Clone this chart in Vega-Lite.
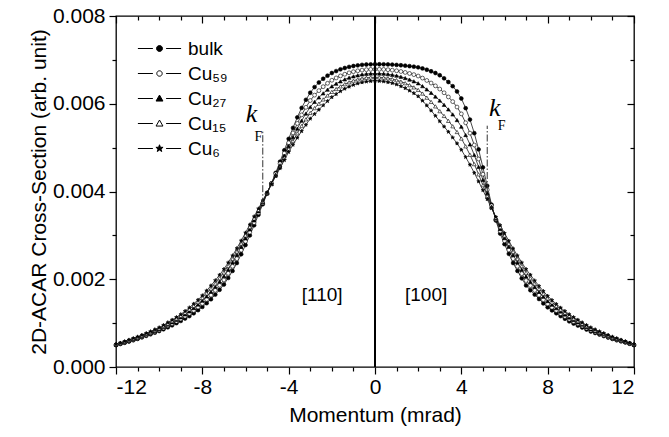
{
"$schema": "https://vega.github.io/schema/vega-lite/v6.json",
"width": 518, "height": 351,
"autosize": {"type": "none"},
"padding": {"left": 116, "top": 16, "right": 35, "bottom": 70},
"background": "white",
"config": {
 "view": {"stroke": "black", "strokeWidth": 1.3},
 "axis": {"domain": false, "grid": false, "tickColor": "black", "tickWidth": 1.2, "labelColor": "black", "titleColor": "black", "labelFont": "Liberation Sans", "titleFont": "Liberation Sans", "labelFontSize": 21, "titleFontSize": 21, "titleFontWeight": "normal"}
},
"data": {"values": [
{"s":"bulk","x":-12,"y":0.0005},{"s":"bulk","x":-11.8,"y":0.000525},{"s":"bulk","x":-11.6,"y":0.000552},{"s":"bulk","x":-11.4,"y":0.00058},{"s":"bulk","x":-11.2,"y":0.00061},{"s":"bulk","x":-11,"y":0.00064},{"s":"bulk","x":-10.8,"y":0.000675},{"s":"bulk","x":-10.6,"y":0.00071},{"s":"bulk","x":-10.4,"y":0.000746},{"s":"bulk","x":-10.2,"y":0.000782},{"s":"bulk","x":-10,"y":0.00082},{"s":"bulk","x":-9.8,"y":0.00086},{"s":"bulk","x":-9.6,"y":0.000905},{"s":"bulk","x":-9.4,"y":0.00095},{"s":"bulk","x":-9.2,"y":0.001},{"s":"bulk","x":-9,"y":0.00105},{"s":"bulk","x":-8.8,"y":0.001105},{"s":"bulk","x":-8.6,"y":0.00116},{"s":"bulk","x":-8.4,"y":0.001225},{"s":"bulk","x":-8.2,"y":0.001295},{"s":"bulk","x":-8,"y":0.00137},{"s":"bulk","x":-7.8,"y":0.001455},{"s":"bulk","x":-7.6,"y":0.001545},{"s":"bulk","x":-7.4,"y":0.00165},{"s":"bulk","x":-7.2,"y":0.00176},{"s":"bulk","x":-7,"y":0.00188},{"s":"bulk","x":-6.8,"y":0.00203},{"s":"bulk","x":-6.6,"y":0.00219},{"s":"bulk","x":-6.4,"y":0.00237},{"s":"bulk","x":-6.2,"y":0.00257},{"s":"bulk","x":-6,"y":0.00278},{"s":"bulk","x":-5.8,"y":0.003},{"s":"bulk","x":-5.6,"y":0.00323},{"s":"bulk","x":-5.4,"y":0.00347},{"s":"bulk","x":-5.2,"y":0.00371},{"s":"bulk","x":-5,"y":0.00395},{"s":"bulk","x":-4.8,"y":0.004185},{"s":"bulk","x":-4.6,"y":0.004425},{"s":"bulk","x":-4.4,"y":0.00468},{"s":"bulk","x":-4.2,"y":0.00494},{"s":"bulk","x":-4,"y":0.0052},{"s":"bulk","x":-3.8,"y":0.00545},{"s":"bulk","x":-3.6,"y":0.00569},{"s":"bulk","x":-3.4,"y":0.005905},{"s":"bulk","x":-3.2,"y":0.00609},{"s":"bulk","x":-3,"y":0.00625},{"s":"bulk","x":-2.8,"y":0.00638},{"s":"bulk","x":-2.6,"y":0.006485},{"s":"bulk","x":-2.4,"y":0.00657},{"s":"bulk","x":-2.2,"y":0.00664},{"s":"bulk","x":-2,"y":0.0067},{"s":"bulk","x":-1.8,"y":0.006745},{"s":"bulk","x":-1.6,"y":0.006785},{"s":"bulk","x":-1.4,"y":0.006815},{"s":"bulk","x":-1.2,"y":0.00684},{"s":"bulk","x":-1,"y":0.00686},{"s":"bulk","x":-0.8,"y":0.006875},{"s":"bulk","x":-0.6,"y":0.006887},{"s":"bulk","x":-0.4,"y":0.006894},{"s":"bulk","x":-0.2,"y":0.006898},{"s":"bulk","x":0,"y":0.0069},
{"s":"bulk","x":0.2,"y":0.0069},{"s":"bulk","x":0.4,"y":0.006899},{"s":"bulk","x":0.6,"y":0.006897},{"s":"bulk","x":0.8,"y":0.006892},{"s":"bulk","x":1,"y":0.006885},{"s":"bulk","x":1.2,"y":0.006878},{"s":"bulk","x":1.4,"y":0.006868},{"s":"bulk","x":1.6,"y":0.006857},{"s":"bulk","x":1.8,"y":0.006845},{"s":"bulk","x":2,"y":0.00683},{"s":"bulk","x":2.2,"y":0.006805},{"s":"bulk","x":2.4,"y":0.006775},{"s":"bulk","x":2.6,"y":0.00674},{"s":"bulk","x":2.8,"y":0.0067},{"s":"bulk","x":3,"y":0.00665},{"s":"bulk","x":3.2,"y":0.00658},{"s":"bulk","x":3.4,"y":0.006495},{"s":"bulk","x":3.6,"y":0.0064},{"s":"bulk","x":3.8,"y":0.00628},{"s":"bulk","x":4,"y":0.00612},{"s":"bulk","x":4.2,"y":0.0059},{"s":"bulk","x":4.4,"y":0.00564},{"s":"bulk","x":4.6,"y":0.00533},{"s":"bulk","x":4.8,"y":0.00496},{"s":"bulk","x":5,"y":0.00455},{"s":"bulk","x":5.2,"y":0.00413},{"s":"bulk","x":5.4,"y":0.0037},{"s":"bulk","x":5.6,"y":0.00334},{"s":"bulk","x":5.8,"y":0.00304},{"s":"bulk","x":6,"y":0.0028},{"s":"bulk","x":6.2,"y":0.00258},{"s":"bulk","x":6.4,"y":0.00237},{"s":"bulk","x":6.6,"y":0.00219},{"s":"bulk","x":6.8,"y":0.00202},{"s":"bulk","x":7,"y":0.00186},{"s":"bulk","x":7.2,"y":0.00175},{"s":"bulk","x":7.4,"y":0.00165},{"s":"bulk","x":7.6,"y":0.00155},{"s":"bulk","x":7.8,"y":0.00145},{"s":"bulk","x":8,"y":0.00136},{"s":"bulk","x":8.2,"y":0.00129},{"s":"bulk","x":8.4,"y":0.001225},{"s":"bulk","x":8.6,"y":0.00116},{"s":"bulk","x":8.8,"y":0.0011},{"s":"bulk","x":9,"y":0.00104},{"s":"bulk","x":9.2,"y":0.00099},{"s":"bulk","x":9.4,"y":0.000945},{"s":"bulk","x":9.6,"y":0.0009},{"s":"bulk","x":9.8,"y":0.000855},{"s":"bulk","x":10,"y":0.00081},{"s":"bulk","x":10.2,"y":0.000775},{"s":"bulk","x":10.4,"y":0.00074},{"s":"bulk","x":10.6,"y":0.000705},{"s":"bulk","x":10.8,"y":0.00067},{"s":"bulk","x":11,"y":0.00064},{"s":"bulk","x":11.2,"y":0.00061},{"s":"bulk","x":11.4,"y":0.000585},{"s":"bulk","x":11.6,"y":0.00056},{"s":"bulk","x":11.8,"y":0.00053},{"s":"bulk","x":12,"y":0.0005},
{"s":"Cu59","x":-12,"y":0.000506},{"s":"Cu59","x":-11.8,"y":0.000532},{"s":"Cu59","x":-11.6,"y":0.000562},{"s":"Cu59","x":-11.4,"y":0.000592},{"s":"Cu59","x":-11.2,"y":0.000623},{"s":"Cu59","x":-11,"y":0.000655},{"s":"Cu59","x":-10.8,"y":0.000691},{"s":"Cu59","x":-10.6,"y":0.000728},{"s":"Cu59","x":-10.4,"y":0.000765},{"s":"Cu59","x":-10.2,"y":0.000804},{"s":"Cu59","x":-10,"y":0.000844},{"s":"Cu59","x":-9.8,"y":0.000888},{"s":"Cu59","x":-9.6,"y":0.000938},{"s":"Cu59","x":-9.4,"y":0.000987},{"s":"Cu59","x":-9.2,"y":0.00104},{"s":"Cu59","x":-9,"y":0.001095},{"s":"Cu59","x":-8.8,"y":0.001156},{"s":"Cu59","x":-8.6,"y":0.001218},{"s":"Cu59","x":-8.4,"y":0.001289},{"s":"Cu59","x":-8.2,"y":0.001365},{"s":"Cu59","x":-8,"y":0.001448},{"s":"Cu59","x":-7.8,"y":0.00154},{"s":"Cu59","x":-7.6,"y":0.001638},{"s":"Cu59","x":-7.4,"y":0.001747},{"s":"Cu59","x":-7.2,"y":0.001862},{"s":"Cu59","x":-7,"y":0.001985},{"s":"Cu59","x":-6.8,"y":0.002135},{"s":"Cu59","x":-6.6,"y":0.002295},{"s":"Cu59","x":-6.4,"y":0.00247},{"s":"Cu59","x":-6.2,"y":0.002663},{"s":"Cu59","x":-6,"y":0.002864},{"s":"Cu59","x":-5.8,"y":0.003073},{"s":"Cu59","x":-5.6,"y":0.00329},{"s":"Cu59","x":-5.4,"y":0.003512},{"s":"Cu59","x":-5.2,"y":0.003735},{"s":"Cu59","x":-5,"y":0.003959},{"s":"Cu59","x":-4.8,"y":0.004179},{"s":"Cu59","x":-4.6,"y":0.004403},{"s":"Cu59","x":-4.4,"y":0.004635},{"s":"Cu59","x":-4.2,"y":0.004873},{"s":"Cu59","x":-4,"y":0.00511},{"s":"Cu59","x":-3.8,"y":0.005335},{"s":"Cu59","x":-3.6,"y":0.005551},{"s":"Cu59","x":-3.4,"y":0.005746},{"s":"Cu59","x":-3.2,"y":0.005919},{"s":"Cu59","x":-3,"y":0.006073},{"s":"Cu59","x":-2.8,"y":0.006196},{"s":"Cu59","x":-2.6,"y":0.006299},{"s":"Cu59","x":-2.4,"y":0.006389},{"s":"Cu59","x":-2.2,"y":0.006466},{"s":"Cu59","x":-2,"y":0.006535},{"s":"Cu59","x":-1.8,"y":0.006588},{"s":"Cu59","x":-1.6,"y":0.006635},{"s":"Cu59","x":-1.4,"y":0.006673},{"s":"Cu59","x":-1.2,"y":0.006705},{"s":"Cu59","x":-1,"y":0.006731},{"s":"Cu59","x":-0.8,"y":0.006751},{"s":"Cu59","x":-0.6,"y":0.006767},{"s":"Cu59","x":-0.4,"y":0.006777},{"s":"Cu59","x":-0.2,"y":0.006783},{"s":"Cu59","x":0,"y":0.006786},
{"s":"Cu59","x":0.2,"y":0.006785},{"s":"Cu59","x":0.4,"y":0.006782},{"s":"Cu59","x":0.6,"y":0.006776},{"s":"Cu59","x":0.8,"y":0.006765},{"s":"Cu59","x":1,"y":0.006752},{"s":"Cu59","x":1.2,"y":0.006735},{"s":"Cu59","x":1.4,"y":0.006714},{"s":"Cu59","x":1.6,"y":0.00669},{"s":"Cu59","x":1.8,"y":0.006664},{"s":"Cu59","x":2,"y":0.006632},{"s":"Cu59","x":2.2,"y":0.006585},{"s":"Cu59","x":2.4,"y":0.006531},{"s":"Cu59","x":2.6,"y":0.006472},{"s":"Cu59","x":2.8,"y":0.006408},{"s":"Cu59","x":3,"y":0.006335},{"s":"Cu59","x":3.2,"y":0.00625},{"s":"Cu59","x":3.4,"y":0.006155},{"s":"Cu59","x":3.6,"y":0.006049},{"s":"Cu59","x":3.8,"y":0.005925},{"s":"Cu59","x":4,"y":0.005769},{"s":"Cu59","x":4.2,"y":0.005566},{"s":"Cu59","x":4.4,"y":0.005331},{"s":"Cu59","x":4.6,"y":0.005059},{"s":"Cu59","x":4.8,"y":0.004741},{"s":"Cu59","x":5,"y":0.004394},{"s":"Cu59","x":5.2,"y":0.004039},{"s":"Cu59","x":5.4,"y":0.003676},{"s":"Cu59","x":5.6,"y":0.003364},{"s":"Cu59","x":5.8,"y":0.003097},{"s":"Cu59","x":6,"y":0.002875},{"s":"Cu59","x":6.2,"y":0.002668},{"s":"Cu59","x":6.4,"y":0.002469},{"s":"Cu59","x":6.6,"y":0.002295},{"s":"Cu59","x":6.8,"y":0.002128},{"s":"Cu59","x":7,"y":0.001971},{"s":"Cu59","x":7.2,"y":0.001855},{"s":"Cu59","x":7.4,"y":0.001746},{"s":"Cu59","x":7.6,"y":0.001638},{"s":"Cu59","x":7.8,"y":0.001534},{"s":"Cu59","x":8,"y":0.001438},{"s":"Cu59","x":8.2,"y":0.00136},{"s":"Cu59","x":8.4,"y":0.001288},{"s":"Cu59","x":8.6,"y":0.001217},{"s":"Cu59","x":8.8,"y":0.001152},{"s":"Cu59","x":9,"y":0.001088},{"s":"Cu59","x":9.2,"y":0.001033},{"s":"Cu59","x":9.4,"y":0.000984},{"s":"Cu59","x":9.6,"y":0.000934},{"s":"Cu59","x":9.8,"y":0.000885},{"s":"Cu59","x":10,"y":0.000837},{"s":"Cu59","x":10.2,"y":0.000799},{"s":"Cu59","x":10.4,"y":0.000761},{"s":"Cu59","x":10.6,"y":0.000724},{"s":"Cu59","x":10.8,"y":0.000688},{"s":"Cu59","x":11,"y":0.000655},{"s":"Cu59","x":11.2,"y":0.000623},{"s":"Cu59","x":11.4,"y":0.000595},{"s":"Cu59","x":11.6,"y":0.000567},{"s":"Cu59","x":11.8,"y":0.000536},{"s":"Cu59","x":12,"y":0.000506},
{"s":"Cu27","x":-12,"y":0.000511},{"s":"Cu27","x":-11.8,"y":0.000539},{"s":"Cu27","x":-11.6,"y":0.00057},{"s":"Cu27","x":-11.4,"y":0.000602},{"s":"Cu27","x":-11.2,"y":0.000635},{"s":"Cu27","x":-11,"y":0.000667},{"s":"Cu27","x":-10.8,"y":0.000705},{"s":"Cu27","x":-10.6,"y":0.000743},{"s":"Cu27","x":-10.4,"y":0.000781},{"s":"Cu27","x":-10.2,"y":0.000822},{"s":"Cu27","x":-10,"y":0.000864},{"s":"Cu27","x":-9.8,"y":0.000912},{"s":"Cu27","x":-9.6,"y":0.000965},{"s":"Cu27","x":-9.4,"y":0.001019},{"s":"Cu27","x":-9.2,"y":0.001074},{"s":"Cu27","x":-9,"y":0.001132},{"s":"Cu27","x":-8.8,"y":0.001198},{"s":"Cu27","x":-8.6,"y":0.001267},{"s":"Cu27","x":-8.4,"y":0.001343},{"s":"Cu27","x":-8.2,"y":0.001424},{"s":"Cu27","x":-8,"y":0.001513},{"s":"Cu27","x":-7.8,"y":0.001612},{"s":"Cu27","x":-7.6,"y":0.001715},{"s":"Cu27","x":-7.4,"y":0.001829},{"s":"Cu27","x":-7.2,"y":0.001947},{"s":"Cu27","x":-7,"y":0.002072},{"s":"Cu27","x":-6.8,"y":0.002222},{"s":"Cu27","x":-6.6,"y":0.002382},{"s":"Cu27","x":-6.4,"y":0.002554},{"s":"Cu27","x":-6.2,"y":0.00274},{"s":"Cu27","x":-6,"y":0.002934},{"s":"Cu27","x":-5.8,"y":0.003135},{"s":"Cu27","x":-5.6,"y":0.00334},{"s":"Cu27","x":-5.4,"y":0.003547},{"s":"Cu27","x":-5.2,"y":0.003757},{"s":"Cu27","x":-5,"y":0.003966},{"s":"Cu27","x":-4.8,"y":0.004174},{"s":"Cu27","x":-4.6,"y":0.004384},{"s":"Cu27","x":-4.4,"y":0.004598},{"s":"Cu27","x":-4.2,"y":0.004816},{"s":"Cu27","x":-4,"y":0.005035},{"s":"Cu27","x":-3.8,"y":0.005238},{"s":"Cu27","x":-3.6,"y":0.005434},{"s":"Cu27","x":-3.4,"y":0.005614},{"s":"Cu27","x":-3.2,"y":0.005777},{"s":"Cu27","x":-3,"y":0.005926},{"s":"Cu27","x":-2.8,"y":0.006042},{"s":"Cu27","x":-2.6,"y":0.006144},{"s":"Cu27","x":-2.4,"y":0.006237},{"s":"Cu27","x":-2.2,"y":0.006321},{"s":"Cu27","x":-2,"y":0.006398},{"s":"Cu27","x":-1.8,"y":0.006456},{"s":"Cu27","x":-1.6,"y":0.00651},{"s":"Cu27","x":-1.4,"y":0.006555},{"s":"Cu27","x":-1.2,"y":0.006593},{"s":"Cu27","x":-1,"y":0.006624},{"s":"Cu27","x":-0.8,"y":0.006648},{"s":"Cu27","x":-0.6,"y":0.006667},{"s":"Cu27","x":-0.4,"y":0.00668},{"s":"Cu27","x":-0.2,"y":0.006688},{"s":"Cu27","x":0,"y":0.006691},
{"s":"Cu27","x":0.2,"y":0.006689},{"s":"Cu27","x":0.4,"y":0.006684},{"s":"Cu27","x":0.6,"y":0.006674},{"s":"Cu27","x":0.8,"y":0.00666},{"s":"Cu27","x":1,"y":0.00664},{"s":"Cu27","x":1.2,"y":0.006615},{"s":"Cu27","x":1.4,"y":0.006586},{"s":"Cu27","x":1.6,"y":0.006551},{"s":"Cu27","x":1.8,"y":0.006512},{"s":"Cu27","x":2,"y":0.006467},{"s":"Cu27","x":2.2,"y":0.006401},{"s":"Cu27","x":2.4,"y":0.006327},{"s":"Cu27","x":2.6,"y":0.006248},{"s":"Cu27","x":2.8,"y":0.006164},{"s":"Cu27","x":3,"y":0.006073},{"s":"Cu27","x":3.2,"y":0.005975},{"s":"Cu27","x":3.4,"y":0.005871},{"s":"Cu27","x":3.6,"y":0.005757},{"s":"Cu27","x":3.8,"y":0.005628},{"s":"Cu27","x":4,"y":0.005477},{"s":"Cu27","x":4.2,"y":0.005287},{"s":"Cu27","x":4.4,"y":0.005074},{"s":"Cu27","x":4.6,"y":0.004832},{"s":"Cu27","x":4.8,"y":0.004559},{"s":"Cu27","x":5,"y":0.004264},{"s":"Cu27","x":5.2,"y":0.003962},{"s":"Cu27","x":5.4,"y":0.003656},{"s":"Cu27","x":5.6,"y":0.003384},{"s":"Cu27","x":5.8,"y":0.003144},{"s":"Cu27","x":6,"y":0.002937},{"s":"Cu27","x":6.2,"y":0.002742},{"s":"Cu27","x":6.4,"y":0.002551},{"s":"Cu27","x":6.6,"y":0.002382},{"s":"Cu27","x":6.8,"y":0.002218},{"s":"Cu27","x":7,"y":0.002063},{"s":"Cu27","x":7.2,"y":0.001942},{"s":"Cu27","x":7.4,"y":0.001826},{"s":"Cu27","x":7.6,"y":0.001712},{"s":"Cu27","x":7.8,"y":0.001604},{"s":"Cu27","x":8,"y":0.001503},{"s":"Cu27","x":8.2,"y":0.001419},{"s":"Cu27","x":8.4,"y":0.00134},{"s":"Cu27","x":8.6,"y":0.001264},{"s":"Cu27","x":8.8,"y":0.001196},{"s":"Cu27","x":9,"y":0.001128},{"s":"Cu27","x":9.2,"y":0.00107},{"s":"Cu27","x":9.4,"y":0.001016},{"s":"Cu27","x":9.6,"y":0.000963},{"s":"Cu27","x":9.8,"y":0.00091},{"s":"Cu27","x":10,"y":0.000859},{"s":"Cu27","x":10.2,"y":0.000819},{"s":"Cu27","x":10.4,"y":0.000778},{"s":"Cu27","x":10.6,"y":0.000741},{"s":"Cu27","x":10.8,"y":0.000703},{"s":"Cu27","x":11,"y":0.000667},{"s":"Cu27","x":11.2,"y":0.000635},{"s":"Cu27","x":11.4,"y":0.000604},{"s":"Cu27","x":11.6,"y":0.000574},{"s":"Cu27","x":11.8,"y":0.000541},{"s":"Cu27","x":12,"y":0.000511},
{"s":"Cu15","x":-12,"y":0.000516},{"s":"Cu15","x":-11.8,"y":0.000544},{"s":"Cu15","x":-11.6,"y":0.000578},{"s":"Cu15","x":-11.4,"y":0.000611},{"s":"Cu15","x":-11.2,"y":0.000645},{"s":"Cu15","x":-11,"y":0.000679},{"s":"Cu15","x":-10.8,"y":0.000718},{"s":"Cu15","x":-10.6,"y":0.000757},{"s":"Cu15","x":-10.4,"y":0.000796},{"s":"Cu15","x":-10.2,"y":0.000839},{"s":"Cu15","x":-10,"y":0.000882},{"s":"Cu15","x":-9.8,"y":0.000934},{"s":"Cu15","x":-9.6,"y":0.000991},{"s":"Cu15","x":-9.4,"y":0.001047},{"s":"Cu15","x":-9.2,"y":0.001105},{"s":"Cu15","x":-9,"y":0.001167},{"s":"Cu15","x":-8.8,"y":0.001238},{"s":"Cu15","x":-8.6,"y":0.001312},{"s":"Cu15","x":-8.4,"y":0.001393},{"s":"Cu15","x":-8.2,"y":0.001478},{"s":"Cu15","x":-8,"y":0.001573},{"s":"Cu15","x":-7.8,"y":0.001677},{"s":"Cu15","x":-7.6,"y":0.001787},{"s":"Cu15","x":-7.4,"y":0.001903},{"s":"Cu15","x":-7.2,"y":0.002025},{"s":"Cu15","x":-7,"y":0.002153},{"s":"Cu15","x":-6.8,"y":0.002303},{"s":"Cu15","x":-6.6,"y":0.002463},{"s":"Cu15","x":-6.4,"y":0.002631},{"s":"Cu15","x":-6.2,"y":0.002812},{"s":"Cu15","x":-6,"y":0.002998},{"s":"Cu15","x":-5.8,"y":0.003191},{"s":"Cu15","x":-5.6,"y":0.003386},{"s":"Cu15","x":-5.4,"y":0.003579},{"s":"Cu15","x":-5.2,"y":0.003776},{"s":"Cu15","x":-5,"y":0.003973},{"s":"Cu15","x":-4.8,"y":0.004169},{"s":"Cu15","x":-4.6,"y":0.004367},{"s":"Cu15","x":-4.4,"y":0.004563},{"s":"Cu15","x":-4.2,"y":0.004765},{"s":"Cu15","x":-4,"y":0.004966},{"s":"Cu15","x":-3.8,"y":0.00515},{"s":"Cu15","x":-3.6,"y":0.005327},{"s":"Cu15","x":-3.4,"y":0.005492},{"s":"Cu15","x":-3.2,"y":0.005645},{"s":"Cu15","x":-3,"y":0.00579},{"s":"Cu15","x":-2.8,"y":0.0059},{"s":"Cu15","x":-2.6,"y":0.006001},{"s":"Cu15","x":-2.4,"y":0.006098},{"s":"Cu15","x":-2.2,"y":0.006188},{"s":"Cu15","x":-2,"y":0.006271},{"s":"Cu15","x":-1.8,"y":0.006336},{"s":"Cu15","x":-1.6,"y":0.006395},{"s":"Cu15","x":-1.4,"y":0.006446},{"s":"Cu15","x":-1.2,"y":0.006489},{"s":"Cu15","x":-1,"y":0.006525},{"s":"Cu15","x":-0.8,"y":0.006553},{"s":"Cu15","x":-0.6,"y":0.006575},{"s":"Cu15","x":-0.4,"y":0.006591},{"s":"Cu15","x":-0.2,"y":0.0066},{"s":"Cu15","x":0,"y":0.006604},
{"s":"Cu15","x":0.2,"y":0.006601},{"s":"Cu15","x":0.4,"y":0.006594},{"s":"Cu15","x":0.6,"y":0.006581},{"s":"Cu15","x":0.8,"y":0.006563},{"s":"Cu15","x":1,"y":0.006538},{"s":"Cu15","x":1.2,"y":0.006505},{"s":"Cu15","x":1.4,"y":0.006468},{"s":"Cu15","x":1.6,"y":0.006423},{"s":"Cu15","x":1.8,"y":0.006373},{"s":"Cu15","x":2,"y":0.006315},{"s":"Cu15","x":2.2,"y":0.006232},{"s":"Cu15","x":2.4,"y":0.006139},{"s":"Cu15","x":2.6,"y":0.006042},{"s":"Cu15","x":2.8,"y":0.00594},{"s":"Cu15","x":3,"y":0.005831},{"s":"Cu15","x":3.2,"y":0.005722},{"s":"Cu15","x":3.4,"y":0.00561},{"s":"Cu15","x":3.6,"y":0.005487},{"s":"Cu15","x":3.8,"y":0.005356},{"s":"Cu15","x":4,"y":0.005207},{"s":"Cu15","x":4.2,"y":0.00503},{"s":"Cu15","x":4.4,"y":0.004837},{"s":"Cu15","x":4.6,"y":0.004624},{"s":"Cu15","x":4.8,"y":0.004391},{"s":"Cu15","x":5,"y":0.004144},{"s":"Cu15","x":5.2,"y":0.003892},{"s":"Cu15","x":5.4,"y":0.003638},{"s":"Cu15","x":5.6,"y":0.003402},{"s":"Cu15","x":5.8,"y":0.003188},{"s":"Cu15","x":6,"y":0.002995},{"s":"Cu15","x":6.2,"y":0.00281},{"s":"Cu15","x":6.4,"y":0.002627},{"s":"Cu15","x":6.6,"y":0.002463},{"s":"Cu15","x":6.8,"y":0.002301},{"s":"Cu15","x":7,"y":0.002149},{"s":"Cu15","x":7.2,"y":0.002023},{"s":"Cu15","x":7.4,"y":0.0019},{"s":"Cu15","x":7.6,"y":0.00178},{"s":"Cu15","x":7.8,"y":0.001668},{"s":"Cu15","x":8,"y":0.001563},{"s":"Cu15","x":8.2,"y":0.001473},{"s":"Cu15","x":8.4,"y":0.001389},{"s":"Cu15","x":8.6,"y":0.001308},{"s":"Cu15","x":8.8,"y":0.001236},{"s":"Cu15","x":9,"y":0.001165},{"s":"Cu15","x":9.2,"y":0.001103},{"s":"Cu15","x":9.4,"y":0.001046},{"s":"Cu15","x":9.6,"y":0.00099},{"s":"Cu15","x":9.8,"y":0.000933},{"s":"Cu15","x":10,"y":0.00088},{"s":"Cu15","x":10.2,"y":0.000837},{"s":"Cu15","x":10.4,"y":0.000795},{"s":"Cu15","x":10.6,"y":0.000756},{"s":"Cu15","x":10.8,"y":0.000717},{"s":"Cu15","x":11,"y":0.000679},{"s":"Cu15","x":11.2,"y":0.000645},{"s":"Cu15","x":11.4,"y":0.000612},{"s":"Cu15","x":11.6,"y":0.000579},{"s":"Cu15","x":11.8,"y":0.000546},{"s":"Cu15","x":12,"y":0.000516},
{"s":"Cu6","x":-12,"y":0.00052},{"s":"Cu6","x":-11.8,"y":0.00055},{"s":"Cu6","x":-11.6,"y":0.000585},{"s":"Cu6","x":-11.4,"y":0.00062},{"s":"Cu6","x":-11.2,"y":0.000655},{"s":"Cu6","x":-11,"y":0.00069},{"s":"Cu6","x":-10.8,"y":0.00073},{"s":"Cu6","x":-10.6,"y":0.00077},{"s":"Cu6","x":-10.4,"y":0.00081},{"s":"Cu6","x":-10.2,"y":0.000855},{"s":"Cu6","x":-10,"y":0.0009},{"s":"Cu6","x":-9.8,"y":0.000955},{"s":"Cu6","x":-9.6,"y":0.001015},{"s":"Cu6","x":-9.4,"y":0.001075},{"s":"Cu6","x":-9.2,"y":0.001135},{"s":"Cu6","x":-9,"y":0.0012},{"s":"Cu6","x":-8.8,"y":0.001275},{"s":"Cu6","x":-8.6,"y":0.001355},{"s":"Cu6","x":-8.4,"y":0.00144},{"s":"Cu6","x":-8.2,"y":0.00153},{"s":"Cu6","x":-8,"y":0.00163},{"s":"Cu6","x":-7.8,"y":0.00174},{"s":"Cu6","x":-7.6,"y":0.001855},{"s":"Cu6","x":-7.4,"y":0.001975},{"s":"Cu6","x":-7.2,"y":0.0021},{"s":"Cu6","x":-7,"y":0.00223},{"s":"Cu6","x":-6.8,"y":0.00238},{"s":"Cu6","x":-6.6,"y":0.00254},{"s":"Cu6","x":-6.4,"y":0.002705},{"s":"Cu6","x":-6.2,"y":0.00288},{"s":"Cu6","x":-6,"y":0.00306},{"s":"Cu6","x":-5.8,"y":0.003245},{"s":"Cu6","x":-5.6,"y":0.00343},{"s":"Cu6","x":-5.4,"y":0.00361},{"s":"Cu6","x":-5.2,"y":0.003795},{"s":"Cu6","x":-5,"y":0.00398},{"s":"Cu6","x":-4.8,"y":0.004165},{"s":"Cu6","x":-4.6,"y":0.00435},{"s":"Cu6","x":-4.4,"y":0.00453},{"s":"Cu6","x":-4.2,"y":0.004715},{"s":"Cu6","x":-4,"y":0.0049},{"s":"Cu6","x":-3.8,"y":0.005065},{"s":"Cu6","x":-3.6,"y":0.005225},{"s":"Cu6","x":-3.4,"y":0.005375},{"s":"Cu6","x":-3.2,"y":0.00552},{"s":"Cu6","x":-3,"y":0.00566},{"s":"Cu6","x":-2.8,"y":0.005765},{"s":"Cu6","x":-2.6,"y":0.005865},{"s":"Cu6","x":-2.4,"y":0.005965},{"s":"Cu6","x":-2.2,"y":0.00606},{"s":"Cu6","x":-2,"y":0.00615},{"s":"Cu6","x":-1.8,"y":0.00622},{"s":"Cu6","x":-1.6,"y":0.006285},{"s":"Cu6","x":-1.4,"y":0.006342},{"s":"Cu6","x":-1.2,"y":0.00639},{"s":"Cu6","x":-1,"y":0.00643},{"s":"Cu6","x":-0.8,"y":0.006462},{"s":"Cu6","x":-0.6,"y":0.006487},{"s":"Cu6","x":-0.4,"y":0.006505},{"s":"Cu6","x":-0.2,"y":0.006516},{"s":"Cu6","x":0,"y":0.00652},
{"s":"Cu6","x":0.2,"y":0.006517},{"s":"Cu6","x":0.4,"y":0.006508},{"s":"Cu6","x":0.6,"y":0.006492},{"s":"Cu6","x":0.8,"y":0.00647},{"s":"Cu6","x":1,"y":0.00644},{"s":"Cu6","x":1.2,"y":0.0064},{"s":"Cu6","x":1.4,"y":0.006355},{"s":"Cu6","x":1.6,"y":0.0063},{"s":"Cu6","x":1.8,"y":0.00624},{"s":"Cu6","x":2,"y":0.00617},{"s":"Cu6","x":2.2,"y":0.00607},{"s":"Cu6","x":2.4,"y":0.00596},{"s":"Cu6","x":2.6,"y":0.005845},{"s":"Cu6","x":2.8,"y":0.005725},{"s":"Cu6","x":3,"y":0.0056},{"s":"Cu6","x":3.2,"y":0.00548},{"s":"Cu6","x":3.4,"y":0.00536},{"s":"Cu6","x":3.6,"y":0.00523},{"s":"Cu6","x":3.8,"y":0.005095},{"s":"Cu6","x":4,"y":0.00495},{"s":"Cu6","x":4.2,"y":0.004785},{"s":"Cu6","x":4.4,"y":0.00461},{"s":"Cu6","x":4.6,"y":0.004425},{"s":"Cu6","x":4.8,"y":0.00423},{"s":"Cu6","x":5,"y":0.00403},{"s":"Cu6","x":5.2,"y":0.003825},{"s":"Cu6","x":5.4,"y":0.00362},{"s":"Cu6","x":5.6,"y":0.00342},{"s":"Cu6","x":5.8,"y":0.00323},{"s":"Cu6","x":6,"y":0.00305},{"s":"Cu6","x":6.2,"y":0.002875},{"s":"Cu6","x":6.4,"y":0.0027},{"s":"Cu6","x":6.6,"y":0.00254},{"s":"Cu6","x":6.8,"y":0.00238},{"s":"Cu6","x":7,"y":0.00223},{"s":"Cu6","x":7.2,"y":0.0021},{"s":"Cu6","x":7.4,"y":0.00197},{"s":"Cu6","x":7.6,"y":0.001845},{"s":"Cu6","x":7.8,"y":0.00173},{"s":"Cu6","x":8,"y":0.00162},{"s":"Cu6","x":8.2,"y":0.001525},{"s":"Cu6","x":8.4,"y":0.001435},{"s":"Cu6","x":8.6,"y":0.00135},{"s":"Cu6","x":8.8,"y":0.001275},{"s":"Cu6","x":9,"y":0.0012},{"s":"Cu6","x":9.2,"y":0.001135},{"s":"Cu6","x":9.4,"y":0.001075},{"s":"Cu6","x":9.6,"y":0.001015},{"s":"Cu6","x":9.8,"y":0.000955},{"s":"Cu6","x":10,"y":0.0009},{"s":"Cu6","x":10.2,"y":0.000855},{"s":"Cu6","x":10.4,"y":0.00081},{"s":"Cu6","x":10.6,"y":0.00077},{"s":"Cu6","x":10.8,"y":0.00073},{"s":"Cu6","x":11,"y":0.00069},{"s":"Cu6","x":11.2,"y":0.000655},{"s":"Cu6","x":11.4,"y":0.00062},{"s":"Cu6","x":11.6,"y":0.000585},{"s":"Cu6","x":11.8,"y":0.00055},{"s":"Cu6","x":12,"y":0.00052}
]},
"layer": [
 {
  "mark": {"type": "line", "stroke": "#1a1a1a", "strokeWidth": 0.8},
  "encoding": {
   "x": {"field": "x", "type": "quantitative", "scale": {"domain": [-12, 12], "nice": false, "zero": false},
    "axis": {"orient": "bottom", "values": [-12,-11,-10,-9,-8,-7,-6,-5,-4,-3,-2,-1,0,1,2,3,4,5,6,7,8,9,10,11,12], "labelExpr": "datum.value % 4 === 0 ? '' + datum.value : ''", "tickSize": {"condition": {"test": "datum.value % 4 === 0", "value": 7}, "value": 4}, "labelPadding": 2, "labelOverlap": false, "title": "Momentum (mrad)", "titlePadding": 7}},
   "y": {"field": "y", "type": "quantitative", "scale": {"domain": [0, 0.008], "nice": false},
    "axis": {"orient": "left", "values": [0,0.001,0.002,0.003,0.004,0.005,0.006,0.007,0.008], "labelExpr": "round(datum.value*1000) % 2 === 0 ? format(datum.value, '.3f') : ''", "tickSize": {"condition": {"test": "round(datum.value*1000) % 2 === 0", "value": 7}, "value": 4}, "labelPadding": 4, "labelOverlap": false, "title": "2D-ACAR Cross-Section (arb. unit)", "titlePadding": 3}},
   "detail": {"field": "s"}
  }
 },
 {
  "mark": {"type": "point", "filled": true, "opacity": 1, "stroke": "black", "strokeWidth": 0.6},
  "encoding": {
   "x": {"field": "x", "type": "quantitative",
    "axis": {"orient": "top", "values": [-12,-11,-10,-9,-8,-7,-6,-5,-4,-3,-2,-1,0,1,2,3,4,5,6,7,8,9,10,11,12], "labels": false, "title": null, "tickSize": {"condition": {"test": "datum.value % 4 === 0", "value": -7}, "value": -4}}},
   "y": {"field": "y", "type": "quantitative",
    "axis": {"orient": "right", "values": [0,0.001,0.002,0.003,0.004,0.005,0.006,0.007,0.008], "labels": false, "title": null, "tickSize": {"condition": {"test": "round(datum.value*1000) % 2 === 0", "value": -7}, "value": -4}}},
   "shape": {"field": "s", "type": "nominal",
    "scale": {"domain": ["Cu6","Cu15","Cu27","Cu59","bulk"], "range": ["M0,-1L0.247,-0.34L0.951,-0.309L0.399,0.13L0.588,0.809L0,0.42L-0.588,0.809L-0.399,0.13L-0.951,-0.309L-0.247,-0.34Z","triangle-up","triangle-up","circle","circle"]},
    "legend": null},
   "size": {"field": "s", "type": "nominal", "scale": {"domain": ["Cu59","bulk","Cu6","Cu15","Cu27"], "range": [15, 14, 36, 20, 20]}, "legend": null},
   "fill": {"field": "s", "type": "nominal",
    "scale": {"domain": ["bulk","Cu59","Cu27","Cu15","Cu6"], "range": ["black","white","black","white","black"]},
    "legend": {"title": null, "orient": "none", "legendX": 34, "legendY": 23, "padding": 0, "symbolSize": 36, "symbolStrokeColor": "black", "symbolStrokeWidth": 1,
     "symbolType": {"expr": "datum.value === 'bulk' ? 'M-7.2,0H-2.2M2.2,0H7.2M-1,0A1,1,0,1,0,1,0A1,1,0,1,0,-1,0Z' : datum.value === 'Cu59' ? 'M-7.2,0H-2.2M2.2,0H7.2M-0.9,0A0.9,0.9,0,1,0,0.9,0A0.9,0.9,0,1,0,-0.9,0Z' : (datum.value === 'Cu27' || datum.value === 'Cu15') ? 'M-7.2,0H-2.2M2.2,0H7.2M0,-1.15L1.15,0.85L-1.15,0.85Z' : 'M-7.2,0H-2.2M2.2,0H7.2M0,-1.25L0.294,-0.405L1.189,-0.386L0.476,0.155L0.735,1.011L0,0.5L-0.735,1.011L-0.476,0.155L-1.189,-0.386L-0.294,-0.405Z'"},
     "labelOffset": 19, "rowPadding": 5, "labelFontSize": 19, "labelFont": "Liberation Sans", "labelColor": "black",
     "labelExpr": "datum.label === 'Cu59' ? 'Cu₅₉' : datum.label === 'Cu27' ? 'Cu₂₇' : datum.label === 'Cu15' ? 'Cu₁₅' : datum.label === 'Cu6' ? 'Cu₆' : datum.label"}}
  }
 },
 {
  "data": {"values": [{}]},
  "mark": {"type": "rule", "stroke": "black", "strokeWidth": 2},
  "encoding": {"x": {"datum": 0, "axis": null}, "y": {"datum": 0, "axis": null}, "y2": {"datum": 0.008}}
 },
 {
  "data": {"values": [{}]},
  "mark": {"type": "rule", "stroke": "#333", "strokeWidth": 1, "strokeDash": [7, 2, 1.5, 2]},
  "encoding": {"x": {"datum": -5.2, "axis": null}, "y": {"datum": 0.0037, "axis": null}, "y2": {"datum": 0.0054}}
 },
 {
  "data": {"values": [{}]},
  "mark": {"type": "rule", "stroke": "#333", "strokeWidth": 1, "strokeDash": [7, 2, 1.5, 2]},
  "encoding": {"x": {"datum": 5.2, "axis": null}, "y": {"datum": 0.004, "axis": null}, "y2": {"datum": 0.0055}}
 },
 {
  "data": {"values": [{}]},
  "mark": {"type": "text", "text": "[110]", "font": "Liberation Sans", "fontSize": 19, "align": "center", "baseline": "middle", "color": "black"},
  "encoding": {"x": {"datum": -2.45, "axis": null}, "y": {"datum": 0.00164, "axis": null}}
 },
 {
  "data": {"values": [{}]},
  "mark": {"type": "text", "text": "[100]", "font": "Liberation Sans", "fontSize": 19, "align": "center", "baseline": "middle", "color": "black"},
  "encoding": {"x": {"datum": 2.37, "axis": null}, "y": {"datum": 0.00164, "axis": null}}
 },
 {
  "data": {"values": [{}]},
  "mark": {"type": "text", "text": "k", "font": "Liberation Serif", "fontStyle": "italic", "fontSize": 26, "align": "center", "baseline": "alphabetic", "color": "black"},
  "encoding": {"x": {"datum": -5.72, "axis": null}, "y": {"datum": 0.00558, "axis": null}}
 },
 {
  "data": {"values": [{}]},
  "mark": {"type": "text", "text": "F", "font": "Liberation Serif", "fontSize": 14, "align": "center", "baseline": "alphabetic", "color": "black"},
  "encoding": {"x": {"datum": -5.4, "axis": null}, "y": {"datum": 0.00515, "axis": null}}
 },
 {
  "data": {"values": [{}]},
  "mark": {"type": "text", "text": "k", "font": "Liberation Serif", "fontStyle": "italic", "fontSize": 26, "align": "center", "baseline": "alphabetic", "color": "black"},
  "encoding": {"x": {"datum": 5.55, "axis": null}, "y": {"datum": 0.00572, "axis": null}}
 },
 {
  "data": {"values": [{}]},
  "mark": {"type": "text", "text": "F", "font": "Liberation Serif", "fontSize": 14, "align": "center", "baseline": "alphabetic", "color": "black"},
  "encoding": {"x": {"datum": 5.87, "axis": null}, "y": {"datum": 0.0054, "axis": null}}
 }
]
}
